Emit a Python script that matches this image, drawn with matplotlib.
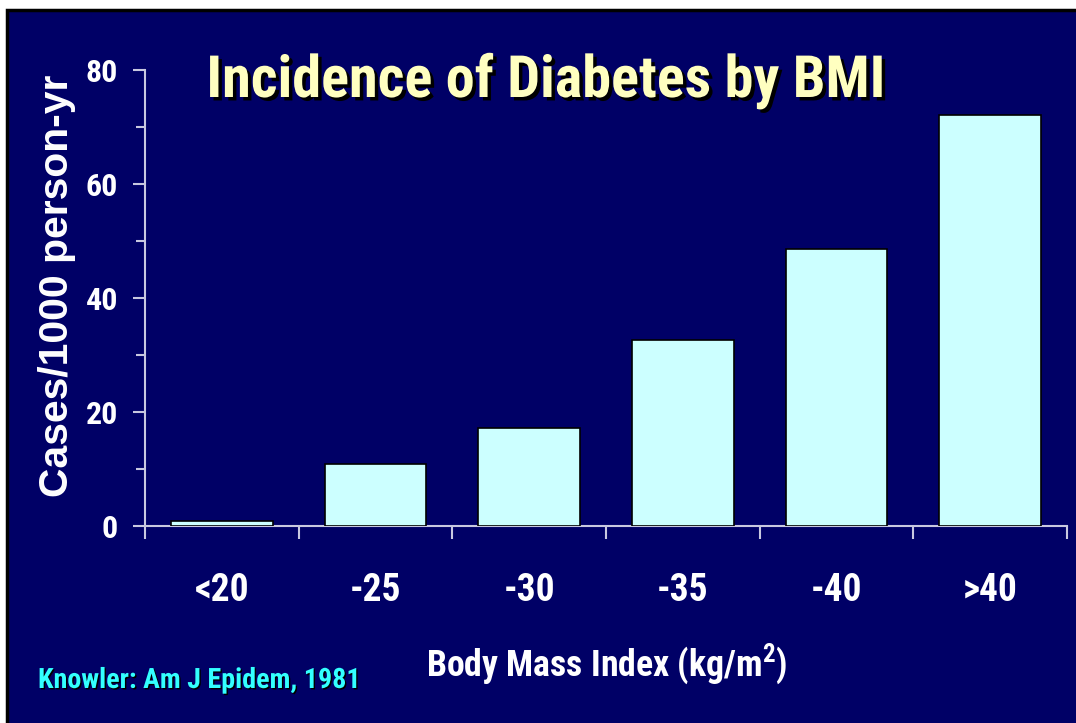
import matplotlib
matplotlib.use( 'Agg' )
import matplotlib.pyplot as plt
import matplotlib.patheffects as pe
from matplotlib.patches import Rectangle

# data
categories = [ '<20', '-25', '-30', '-35', '-40', '>40' ]
incidence  = [ 0.9, 10.9, 17.2, 32.6, 48.6, 72.1 ]

NAVY   = '#000066'
BAR    = '#CCFFFF'
AXIS   = '#C8C8E0'
NARROW = 'Roboto Condensed'

W, H = 1076, 723
def fx( px ): return px / W
def fy( py ): return 1 - py / H

plt.rcParams[ 'mathtext.fontset' ] = 'custom'
plt.rcParams[ 'mathtext.rm' ] = NARROW + ':bold'
plt.rcParams[ 'mathtext.bf' ] = NARROW + ':bold'

fig = plt.figure( figsize = ( W / 100, H / 100 ), dpi = 100, facecolor = 'white' )
renderer = fig.canvas.get_renderer()

def fit_length( t, length_px, vertical = False ):
	'''scale the font so the text spans the wanted number of pixels'''
	bb = t.get_window_extent( renderer )
	cur = bb.height if vertical else bb.width
	t.set_fontsize( t.get_fontsize() * length_px / cur )

# slide background, black frame only shows on the top and left edges
fig.patches.append( Rectangle( ( fx( 6.5 ), -0.05 ), 1.1, fy( 10.5 ) + 0.05,
	transform = fig.transFigure, facecolor = NAVY, edgecolor = 'black',
	linewidth = 2.5, zorder = 0 ) )

ax = fig.add_axes( [ fx( 145 ), fy( 526 ), fx( 1067 ) - fx( 145 ), fy( 70 ) - fy( 526 ) ] )
ax.set_facecolor( 'none' )
ax.set_zorder( 2 )

x = list( range( len( categories ) ) )
ax.bar( x, incidence, width = 0.66, color = BAR, edgecolor = 'black', linewidth = 1.2, zorder = 3 )

ax.set_xlim( -0.5, len( categories ) - 0.5 )
ax.set_ylim( 0, 80 )

for s in [ 'top', 'right' ]:
	ax.spines[ s ].set_visible( False )
for s in [ 'left', 'bottom' ]:
	ax.spines[ s ].set_color( AXIS )
	ax.spines[ s ].set_linewidth( 1.5 )

ax.set_yticks( [ 0, 20, 40, 60, 80 ] )
ax.set_yticks( [ 10, 30, 50, 70 ], minor = True )
ax.tick_params( axis = 'y', which = 'major', length = 8.5, width = 1.5, color = AXIS,
	pad = 11, labelcolor = 'white', labelsize = 23 )
ax.tick_params( axis = 'y', which = 'minor', length = 6.5, width = 1.5, color = AXIS )
for lbl in ax.get_yticklabels():
	lbl.set_fontfamily( NARROW )
	lbl.set_fontweight( 'bold' )

ax.set_xticks( x )
ax.set_xticklabels( categories )
ax.set_xticks( [ i - 0.5 for i in range( len( categories ) + 1 ) ], minor = True )
ax.tick_params( axis = 'x', which = 'major', length = 0, pad = 33,
	labelcolor = 'white', labelsize = 27 )
ax.tick_params( axis = 'x', which = 'minor', length = 9.5, width = 1.5, color = AXIS )
for lbl in ax.get_xticklabels():
	lbl.set_fontfamily( NARROW )
	lbl.set_fontweight( 'bold' )

ylab = fig.text( fx( 57 ), fy( 286 ), 'Cases/1000 person-yr', rotation = 90,
	ha = 'center', va = 'center', color = 'white', fontsize = 29,
	fontfamily = 'Liberation Sans', fontweight = 'bold' )
fit_length( ylab, 422, vertical = True )

shadow = [ pe.withSimplePatchShadow( offset = ( 2.5, -2.5 ), shadow_rgbFace = 'black', alpha = 1 ) ]
title = fig.text( fx( 546 ), fy( 97 ), 'Incidence of Diabetes by BMI', ha = 'center', va = 'baseline',
	color = '#FFFFC0', fontsize = 34, fontfamily = NARROW, fontweight = 'bold',
	path_effects = shadow )
fit_length( title, 679 )

xlab = fig.text( fx( 607 ), fy( 676 ), r'Body Mass Index (kg/m$^2$)', ha = 'center', va = 'baseline',
	color = 'white', fontsize = 25, fontfamily = NARROW, fontweight = 'bold' )
fit_length( xlab, 362 )

small_shadow = [ pe.withSimplePatchShadow( offset = ( 1, -1 ), shadow_rgbFace = 'black', alpha = 1 ) ]
src = fig.text( fx( 38 ), fy( 688 ), 'Knowler: Am J Epidem, 1981', ha = 'left', va = 'baseline',
	color = '#33FFFF', fontsize = 14, fontfamily = NARROW, fontweight = 'bold',
	path_effects = small_shadow )
fit_length( src, 324 )

fig.savefig( 'out.png', dpi = 100, facecolor = 'white' )
